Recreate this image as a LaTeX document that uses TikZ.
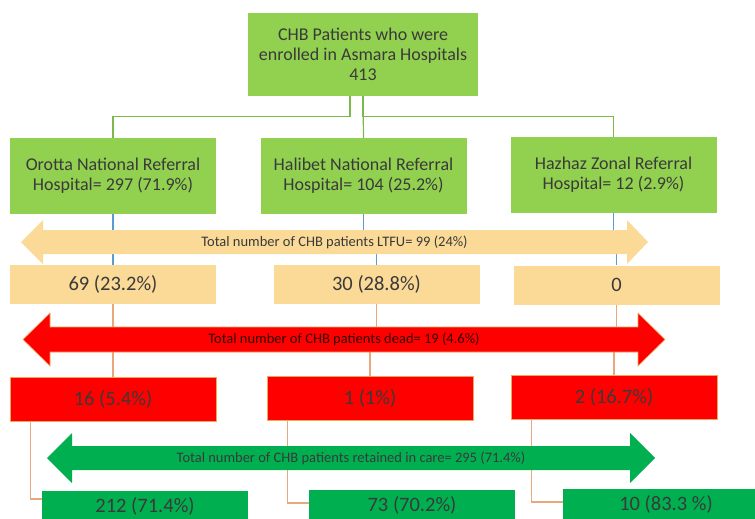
\documentclass[tikz,border=0pt]{standalone}
\usepackage{fontspec}
\setmainfont{Carlito}
\definecolor{boxgreen}{HTML}{92D050}
\definecolor{linegreen}{HTML}{7DB84A}
\definecolor{lineblue}{HTML}{5B9BD5}
\definecolor{peach}{HTML}{FBDA98}
\definecolor{linetan}{HTML}{E8A87C}
\definecolor{redfill}{HTML}{FF0000}
\definecolor{redline}{HTML}{F2A65A}
\definecolor{deepgreen}{HTML}{00B050}
\definecolor{textgrey}{HTML}{3A3A3A}
\begin{document}
\begin{tikzpicture}[x=1pt,y=-1pt,
  hosp/.style={fill=boxgreen, text=textgrey, minimum width=206pt, minimum height=76pt,
    align=center, inner sep=0pt, font=\fontsize{18}{20}\selectfont},
  valbox/.style={minimum width=206pt, inner sep=0pt, text=textgrey,
    font=\fontsize{20.5}{22}\selectfont},
  ltfubox/.style={valbox, fill=peach, minimum height=39pt},
  deadbox/.style={valbox, fill=redfill, draw=redline, line width=0.6pt, minimum height=44pt},
  carebox/.style={valbox, fill=deepgreen, minimum height=30pt},
  arrowtext/.style={inner sep=0pt, font=\fontsize{14.5}{16}\selectfont},
  gline/.style={linegreen, line width=1.2pt},
  bline/.style={lineblue, line width=1.2pt},
  tline/.style={linetan, line width=1.2pt}]
  \useasboundingbox (0,0) rectangle (755,519);
  \clip (0,0) rectangle (755,519);

  % boxes
  \node[hosp, minimum width=230pt, minimum height=83pt] (top) at (363,54.5)
    {CHB Patients who were\\enrolled in Asmara Hospitals\\413};
  \node[hosp] (orotta) at (113,176) {Orotta National Referral\\Hospital= 297 (71.9\%)};
  \node[hosp] (halibet) at (363.5,176) {Halibet National Referral\\Hospital= 104 (25.2\%)};
  \node[hosp] (hazhaz) at (613.5,175) {Hazhaz Zonal Referral\\Hospital= 12 (2.9\%)};

  \node[ltfubox] (l69) at (113,284.5) {69 (23.2\%)};
  \node[ltfubox] (l30) at (376.5,284.5) {30 (28.8\%)};
  \node[ltfubox] (l0) at (616.5,285) {0};

  \node[deadbox] (d16) at (113,399.5) {16 (5.4\%)};
  \node[deadbox] (d1) at (370,398) {1 (1\%)};
  \node[deadbox] (d2) at (614,397) {2 (16.7\%)};

  \node[carebox] (c212) at (145,506) {212 (71.4\%)};
  \node[carebox] (c73) at (412,505) {73 (70.2\%)};
  \node[carebox] (c10) at (666,504) {10 (83.3 \%)};

  % connectors
  \draw[gline] ([xshift=-13pt]top.south) -- ++(0,20) -| (orotta.north);
  \draw[gline] (top.south) -- ++(0,20) -| (hazhaz.north);
  \draw[gline] (top.south) -- (halibet.north);

  \draw[bline] (orotta.south) -- (l69.north);
  \draw[bline] (halibet.south) -- ++(0,28) -| (l30.north);
  \draw[bline] (hazhaz.south) -- ++(0,30) -| (l0.north);

  \draw[tline] (l69.south) -- (d16.north);
  \draw[tline] (l30.south) -- ++(0,36) -| (d1.north);
  \draw[tline] (l0.south) -- ++(0,36) -| (d2.north);

  \draw[tline] ([xshift=21pt]d16.south west) |- ([yshift=7pt]c212.west);
  \draw[tline] ([xshift=21pt]d1.south west) |- ([yshift=2pt]c73.west);
  \draw[tline] ([xshift=21pt]d2.south west) |- ([yshift=2pt]c10.west);

  % arrows
  \fill[peach] (21,242) -- (43,220) -- (43,230) -- (627,230) -- (627,220) -- (648,242)
    -- (627,264) -- (627,254) -- (43,254) -- (43,264) -- cycle;
  \node[arrowtext, text=textgrey] (ltfu) at (334.5,242)
    {Total number of CHB patients LTFU= 99 (24\%)};

  \filldraw[fill=redfill, draw=redline, line width=0.6pt] (23,339.5) -- (50,313) -- (50,327)
    -- (638,327) -- (638,313) -- (665,339.5) -- (638,366) -- (638,352) -- (50,352)
    -- (50,366) -- cycle;
  \node[arrowtext, text=black!80!red] (dead) at (344,339.5)
    {Total number of CHB patients dead= 19 (4.6\%)};

  \fill[deepgreen] (47,458) -- (72,433) -- (72,446) -- (630,446) -- (630,433) -- (655,458)
    -- (630,483) -- (630,470) -- (72,470) -- (72,483) -- cycle;
  \node[arrowtext, text=textgrey] (care) at (351,458)
    {Total number of CHB patients retained in care= 295 (71.4\%)};
\end{tikzpicture}
\end{document}
